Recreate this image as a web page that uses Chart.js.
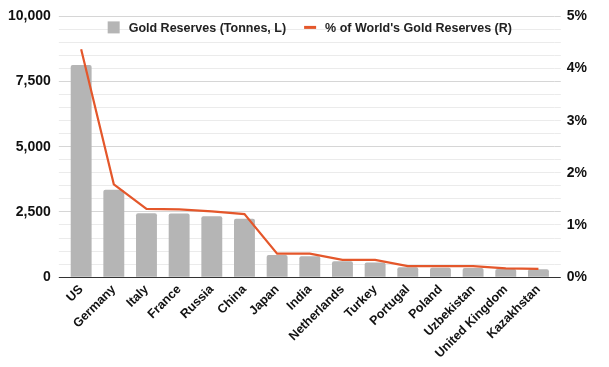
<!DOCTYPE html>
<html lang="en">
<head>
  <meta charset="UTF-8">
  <title>Gold Reserves</title>
  <script src="https://cdn.jsdelivr.net/npm/chart.js"></script>
  <style>
    body {
      margin: 0;
      background: #fff;
    }
    #wrap {
      width: 609px;
      height: 367px;
    }
  </style>
</head>
<body>
  <div id="wrap">
    <canvas id="goldChart" width="609" height="367"></canvas>
  </div>

  <script>
    const countries = ['US', 'Germany', 'Italy', 'France', 'Russia', 'China', 'Japan', 'India',
      'Netherlands', 'Turkey', 'Portugal', 'Poland', 'Uzbekistan', 'United Kingdom', 'Kazakhstan'];
    const tonnes = [8133, 3352, 2452, 2437, 2333, 2235, 846, 800, 612, 560, 383, 360, 355, 310, 300];
    const worldShare = [4.37, 1.78, 1.31, 1.30, 1.26, 1.21, 0.45, 0.45, 0.33, 0.33, 0.21, 0.21, 0.21, 0.17, 0.16];
    const leftTicks = [0, 2500, 5000, 7500, 10000];

    const fontFamily = "'Liberation Sans', Arial, sans-serif";
    const font = { family: fontFamily, weight: 'bold' };

    const minorGrid = '#ebebeb';
    const majorGrid = '#d6d6d6';
    const baseLine = '#333';

    function gridColorL(v) {
      if (v === 0) return baseLine;
      return leftTicks.includes(v) ? majorGrid : minorGrid;
    }
    // right axis: 0.25% steps line up with the 500 t steps on the left
    function gridColorR(v) {
      return gridColorL(Math.round(v * 2000));
    }

    // legend drawn inside the plot area, at the top, like the original
    const insideLegend = {
      id: 'insideLegend',
      afterDraw(chart) {
        const c = chart.ctx;
        const area = chart.chartArea;
        const items = [chart.data.datasets[1], chart.data.datasets[0]];
        c.save();
        c.font = 'bold 12.5px ' + fontFamily;
        c.textBaseline = 'middle';
        const swatch = 12, gap = 9, between = 18;
        const widths = items.map(d => swatch + gap + c.measureText(d.label).width);
        const total = widths.reduce((a, b) => a + b, 0) + between;
        let x = (area.left + area.right) / 2 - total / 2;
        const y = area.top + 11;
        items.forEach((d, i) => {
          if (d.type === 'bar') {
            c.fillStyle = d.backgroundColor;
            c.fillRect(x, y - swatch / 2, swatch, swatch);
          } else {
            c.strokeStyle = d.borderColor;
            c.lineWidth = 3;
            c.beginPath();
            c.moveTo(x, y);
            c.lineTo(x + swatch, y);
            c.stroke();
          }
          c.fillStyle = '#222';
          c.fillText(d.label, x + swatch + gap, y + 1);
          x += widths[i] + between;
        });
        c.restore();
      }
    };

    new Chart(document.getElementById('goldChart'), {
      data: {
        labels: countries,
        datasets: [
          {
            type: 'line',
            label: "% of World's Gold Reserves (R)",
            data: worldShare,
            yAxisID: 'yR',
            borderColor: '#e4572b',
            backgroundColor: '#e4572b',
            borderWidth: 2.2,
            pointRadius: 0,
            tension: 0,
            order: 0
          },
          {
            type: 'bar',
            label: 'Gold Reserves (Tonnes, L)',
            data: tonnes,
            yAxisID: 'yL',
            backgroundColor: '#b5b5b5',
            borderRadius: 2,
            barPercentage: 0.8,
            categoryPercentage: 0.8,
            order: 1
          }
        ]
      },
      options: {
        responsive: false,
        animation: false,
        layout: {
          autoPadding: false,
          padding: { top: 10, left: 0, right: 16, bottom: 1 }
        },
        plugins: {
          legend: { display: false },
          tooltip: { enabled: false }
        },
        scales: {
          x: {
            grid: { display: false, drawTicks: false },
            border: { color: baseLine, width: 1 },
            ticks: {
              color: '#111',
              padding: 5,
              maxRotation: 45,
              minRotation: 45,
              autoSkip: false,
              font: { ...font, size: 12.5 }
            }
          },
          yL: {
            position: 'left',
            min: 0,
            max: 10000,
            border: { display: false },
            grid: {
              color: ctx => gridColorL(ctx.tick.value),
              tickLength: 6
            },
            ticks: {
              stepSize: 500,
              autoSkip: false,
              padding: 8,
              color: '#111',
              font: { ...font, size: 14 },
              callback: v => leftTicks.includes(v) ? v.toLocaleString('en-US') : ''
            }
          },
          yR: {
            position: 'right',
            min: 0,
            max: 5,
            border: { display: false },
            grid: {
              drawOnChartArea: false,
              color: ctx => gridColorR(ctx.tick.value),
              tickLength: 6
            },
            ticks: {
              stepSize: 0.25,
              autoSkip: false,
              padding: 6,
              color: '#111',
              font: { ...font, size: 14 },
              callback: v => Number.isInteger(v) ? v + '%' : ''
            }
          }
        }
      },
      plugins: [insideLegend]
    });
  </script>
</body>
</html>
